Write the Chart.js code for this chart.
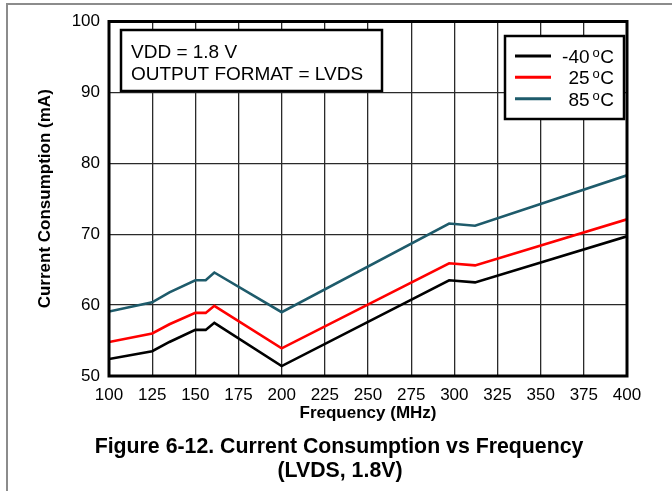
<!DOCTYPE html>
<html>
<head>
<meta charset="utf-8">
<script src="https://cdn.jsdelivr.net/npm/chart.js@4"></script>
<style>
  body { margin: 0; background: #fff; }
  #wrap { position: relative; width: 672px; height: 491px; }
  #page { position: absolute; left: 6px; top: 3px; right: 0; bottom: 0;
          border-left: 2px solid #8c8c8c; border-top: 2px solid #8c8c8c; pointer-events: none; }
</style>
</head>
<body>
<div id="wrap">
  <canvas id="myChart" width="672" height="491"></canvas>
  <div id="page"></div>
</div>
<script>
// values
var freq = [100, 125, 135, 150, 156, 161, 200, 297, 312, 400];
var minus40 = [52.4, 53.5, 54.8, 56.5, 56.5, 57.5, 51.4, 63.5, 63.2, 69.7];
var plus25 = [54.8, 56.0, 57.3, 58.9, 58.9, 59.9, 53.9, 65.9, 65.6, 72.1];
var plus85 = [59.1, 60.4, 61.8, 63.5, 63.5, 64.6, 59.0, 71.5, 71.2, 78.3];
var temps = ['-40', '25', '85'];
var colors = ['#000000', '#ff0000', '#1e5b6b'];
var noteLines = ['VDD = 1.8 V', 'OUTPUT FORMAT = LVDS'];
var caption = ['Figure 6-12. Current Consumption vs Frequency', '(LVDS, 1.8V)'];

var FONT = '"Liberation Sans", Arial, sans-serif';
Chart.defaults.font.family = FONT;
Chart.defaults.color = '#000';

function toPoints(vals) {
    return freq.map(function (f, i) { return { x: f, y: vals[i] }; });
}

// frame + note box + legend box + caption
var boxes = {
    id: 'boxes',
    afterDatasetsDraw: function (chart) {
        var ctx = chart.ctx;
        var a = chart.chartArea;
        ctx.save();
        ctx.strokeStyle = '#000';
        ctx.lineWidth = 3;
        ctx.strokeRect(a.left, a.top, a.right - a.left, a.bottom - a.top);

        // note box
        ctx.fillStyle = '#fff';
        ctx.fillRect(121, 30, 261, 61);
        ctx.lineWidth = 2.5;
        ctx.strokeRect(121, 30, 261, 61);
        ctx.fillStyle = '#000';
        ctx.font = '19px ' + FONT;
        ctx.textAlign = 'left';
        ctx.textBaseline = 'alphabetic';
        ctx.fillText(noteLines[0], 131, 57.5);
        ctx.fillText(noteLines[1], 131, 79.5);

        // legend box
        ctx.fillStyle = '#fff';
        ctx.fillRect(505, 36, 119, 83);
        ctx.strokeRect(505, 36, 119, 83);
        var rows = [56, 77.3, 98.7];
        chart.data.datasets.forEach(function (ds, i) {
            var y = rows[i];
            ctx.strokeStyle = ds.borderColor;
            ctx.lineWidth = 3;
            ctx.beginPath();
            ctx.moveTo(515, y);
            ctx.lineTo(551, y);
            ctx.stroke();
            ctx.fillStyle = '#000';
            ctx.textAlign = 'right';
            ctx.font = '19px ' + FONT;
            var base = y + 7;
            ctx.fillText('C', 614, base);
            var cw = ctx.measureText('C').width;
            ctx.font = '13px ' + FONT;
            ctx.fillText('o', 614 - cw - 0.5, base - 6);
            var ow = ctx.measureText('o').width;
            ctx.font = '19px ' + FONT;
            ctx.fillText(temps[i], 614 - cw - ow - 3.5, base);
        });

        // figure caption
        ctx.fillStyle = '#000';
        ctx.textAlign = 'center';
        ctx.textBaseline = 'middle';
        ctx.font = 'bold 21.3px ' + FONT;
        ctx.fillText(caption[0], 339, 447);
        ctx.fillText(caption[1], 340, 471);
        ctx.restore();
    }
};

var ctx = document.getElementById('myChart').getContext('2d');
var myChart = new Chart(ctx, {
    type: 'line',
    data: {
        datasets: temps.map(function (t, i) {
            return {
                label: t + ' ºC',
                data: toPoints([minus40, plus25, plus85][i]),
                borderColor: colors[i],
                backgroundColor: colors[i],
                borderWidth: 2.6,
                pointRadius: 0,
                tension: 0,
                fill: false
            };
        })
    },
    options: {
        responsive: false,
        animation: false,
        layout: { padding: { left: 0, top: 21.5, right: 45, bottom: 67.8 } },
        scales: {
            x: {
                type: 'linear',
                min: 100, max: 400,
                afterFit: function (s) { s.height = 47.2; },
                ticks: { stepSize: 25, padding: 9, font: { size: 17 } },
                grid: { color: '#2a2a2a', lineWidth: 1.3, drawTicks: false },
                border: { display: false },
                title: { display: true, text: 'Frequency (MHz)', font: { size: 17, weight: 'bold' }, padding: 0 }
            },
            y: {
                min: 50, max: 100,
                afterFit: function (s) { s.width = 109; },
                ticks: { stepSize: 10, padding: 9, font: { size: 17 } },
                grid: { color: '#2a2a2a', lineWidth: 1.3, drawTicks: false },
                border: { display: false },
                title: { display: true, text: 'Current Consumption (mA)', font: { size: 17, weight: 'bold' }, padding: { top: 34.8, bottom: 0 } }
            }
        },
        plugins: {
            legend: { display: false },
            tooltip: { enabled: false },
            title: { display: false }
        }
    },
    plugins: [boxes]
});
</script>
</body>
</html>
